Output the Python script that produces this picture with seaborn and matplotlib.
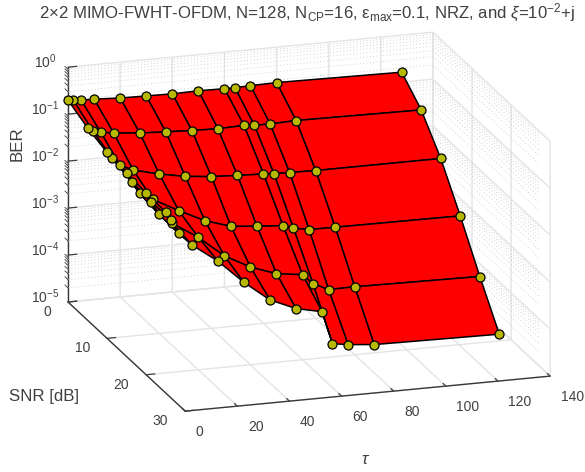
import numpy as np
import pandas as pd
import matplotlib
matplotlib.use("Agg")
import matplotlib.pyplot as plt
import seaborn as sns
from matplotlib.transforms import Affine2D
from mpl_toolkits.mplot3d import proj3d

tau = [0, 2, 5, 10, 20, 30, 40, 50, 60, 64, 70, 80, 128]
snr = [0, 5, 10, 15, 20, 25]
log_ber_snr0 = [-0.70, -0.713, -0.728, -0.733, -0.763, -0.772, -0.781, -0.769, -0.778, -0.778, -0.766, -0.754, -0.789]
log_ber_snr5 = [-0.905, -0.979, -1.022, -1.069, -1.121, -1.151, -1.175, -1.191, -1.172, -1.193, -1.194, -1.176, -1.205]
log_ber_snr10 = [-1.042, -1.18, -1.344, -1.47, -1.607, -1.712, -1.768, -1.798, -1.82, -1.834, -1.842, -1.853, -1.852]
log_ber_snr15 = [-1.089, -1.291, -1.553, -1.707, -2.001, -2.266, -2.441, -2.493, -2.533, -2.607, -2.67, -2.673, -2.687]
log_ber_snr20 = [-1.128, -1.33, -1.614, -1.831, -2.181, -2.63, -2.92, -3.117, -3.189, -3.402, -3.56, -3.554, -3.59]
log_ber_snr25 = [-1.146, -1.318, -1.631, -1.9, -2.298, -2.803, -3.232, -3.469, -3.59, -4.292, -4.344, -4.396, -4.431]
tau_ticks = [0, 20, 40, 60, 80, 100, 120, 140]
snr_ticks = [0, 10, 20, 30]
ber_decades = [-5, -4, -3, -2, -1, 0]

sns.set_theme(style="white")
plt.rcParams["font.family"] = ["Liberation Sans", "DejaVu Sans"]
plt.rcParams["mathtext.fontset"] = "custom"
plt.rcParams["mathtext.rm"] = "Liberation Sans"
plt.rcParams["mathtext.it"] = "Liberation Sans:italic"
plt.rcParams["mathtext.bf"] = "Liberation Sans:bold"
plt.rcParams["mathtext.default"] = "regular"

TEXT = "#404040"
AXIS = "#383838"
GRID = "#e4e4e4"

fig = plt.figure(figsize=(5.85, 4.72), dpi=100)
ax = fig.add_axes([0, 0, 1, 1], projection="3d", computed_zorder=False)
ax.set_proj_type("ortho")
ax.view_init(elev=17.4, azim=-107.8)
ax.patch.set_alpha(0)
ax.set_xlim(0, 140, view_margin=0)
ax.set_ylim(30, 0, view_margin=0)
ax.set_zlim(-5, 0, view_margin=0)
zoom = 1.0
aspect = (1, 1, 0.642)
ax.set_box_aspect(aspect, zoom=zoom)

# walls
for axis in (ax.xaxis, ax.yaxis, ax.zaxis):
    axis.set_pane_color((1, 1, 1, 0))
    axis.pane.set_edgecolor(GRID)
    axis.line.set_color(AXIS)
    axis.line.set_linewidth(1.0)
    axis._axinfo["grid"].update(color=GRID, linewidth=1.0, linestyle="-")
    axis._axinfo["tick"].update(inward_factor=0.0, outward_factor=0.3,
                                 linewidth={True: 0.9, False: 0.6}, color=AXIS)

ax.set_xticks(tau_ticks)
ax.set_yticks(snr_ticks)
ax.set_zticks(ber_decades)
ax.set_zticklabels([f"10$^{{{d}}}$" for d in ber_decades])
ax.tick_params(axis="both", labelsize=10, colors=TEXT, pad=0)
ax.tick_params(axis="x", pad=1)
ax.tick_params(axis="y", pad=6)
ax.tick_params(axis="z", pad=1)


def nudge(axis, ha, va, dx, dy):
    # Axis3D.get_major_ticks resets label transforms, so offset them after it runs
    original = axis.get_major_ticks
    shift = Affine2D().translate(dx, dy)

    def get_major_ticks(numticks=None):
        ticks = original(numticks)
        for tick in ticks:
            tick.label1.set_ha(ha)
            tick.label1.set_va(va)
            tick.label1.set_transform(ax.transData + shift)
        return ticks

    axis.get_major_ticks = get_major_ticks


nudge(ax.xaxis, "left", "center", 4.5, -3)
nudge(ax.yaxis, "right", "bottom", 12, 4.5)
nudge(ax.zaxis, "center", "center", 2, 2)

# minor log grid on the two back walls, minor ticks on the BER axis
for d in ber_decades[:-1]:
    for m in range(2, 10):
        z = d + np.log10(m)
        ax.plot([0, 140], [0, 0], [z, z], color="#c4c4c4", lw=0.6, ls=(0, (1, 3)), zorder=0.5)
        ax.plot([140, 140], [0, 30], [z, z], color="#c4c4c4", lw=0.6, ls=(0, (1, 3)), zorder=0.5)
        ax.plot([0, 0], [0, -0.8], [z, z], color=AXIS, lw=0.6, zorder=0.5, clip_on=False)

df = pd.DataFrame(
    [log_ber_snr0, log_ber_snr5, log_ber_snr10, log_ber_snr15, log_ber_snr20, log_ber_snr25],
    index=snr, columns=tau)
T, S = np.meshgrid(df.columns.values, df.index.values)
Z = df.values
ax.plot_surface(T, S, Z, rstride=1, cstride=1, color=(1, 0, 0), edgecolor="black",
                linewidth=1.1, shade=False, antialiased=True, zorder=2)
ax.scatter(T.ravel(), S.ravel(), Z.ravel(), s=42, c="#B8B800", edgecolors="black",
           linewidths=0.9, depthshade=False, zorder=3, clip_on=False)


def to_px(x, y, z):
    X, Y, _ = proj3d.proj_transform(x, y, z, ax.get_proj())
    return ax.transData.transform((X, Y))


# place the 3-D box: snr=0/tau=0 floor corner and snr=30/tau=140 floor corner
target_a = np.array([68.0, 472 - 302.0])
target_b = np.array([550.0, 472 - 377.0])
for _ in range(5):
    fig.canvas.draw()
    a, b = to_px(0, 0, -5), to_px(140, 30, -5)
    zoom *= np.hypot(*(target_b - target_a)) / np.hypot(*(b - a))
    ax.set_box_aspect(aspect, zoom=zoom)
    fig.canvas.draw()
    a = to_px(0, 0, -5)
    p = ax.get_position()
    d = (target_a - a) / np.array([585.0, 472.0])
    ax.set_position([p.x0 + d[0], p.y0 + d[1], p.width, p.height])

fig.text(307 / 585, 1 - 13 / 472,
         r"2$\times$2 MIMO-FWHT-OFDM, N=128, N$_{CP}$=16, $\epsilon_{max}$=0.1, NRZ, and $\mathit{\xi}$=10$^{-2}$+j",
         ha="center", va="center", fontsize=12.1, color=TEXT)
fig.text(17 / 585, 1 - 144 / 472, "BER", rotation=90, ha="center", va="center", fontsize=12.2, color=TEXT)
fig.text(44 / 585, 1 - 397 / 472, "SNR [dB]", ha="center", va="center", fontsize=12.2, color=TEXT)
fig.text(366 / 585, 1 - 460 / 472, r"$\mathit{\tau}$", ha="center", va="center", fontsize=12.2, color=TEXT)

fig.savefig("out.png", dpi=100)
